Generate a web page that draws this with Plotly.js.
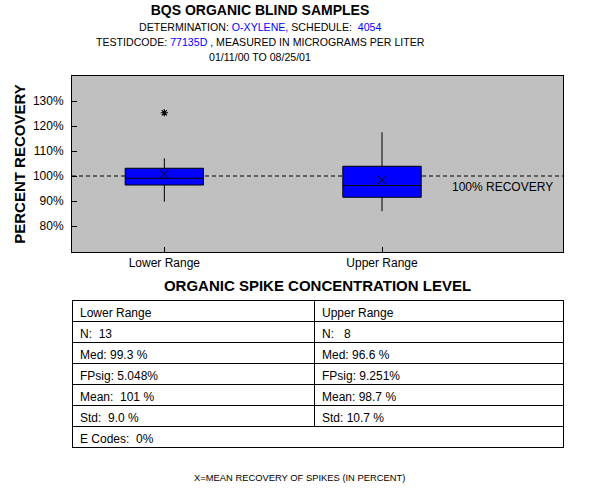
<!DOCTYPE html>
<html>
<head>
<meta charset="utf-8">
<script src="https://cdn.plot.ly/plotly-3.0.1.min.js"></script>
<style>html,body{margin:0;padding:0;background:#fff;}#chart{width:600px;height:500px;}</style>
</head>
<body>
<div id="chart"></div>
<script>
// ---- data ----
var categories = ['Lower Range', 'Upper Range'];
var q1Values = [96.4, 91.5];
var medianValues = [99.1, 96.2];
var q3Values = [103.1, 103.9];
var lowerFenceValues = [89.7, 85.9];
var upperFenceValues = [107.1, 117.5];
var meanValues = [100.8, 98.3];
var outlierCategories = ['Lower Range'];
var outlierValues = [125.3];
var referenceLevel = 100;
var yTickVals = [80, 90, 100, 110, 120, 130];
var yTickText = ['80%', '90%', '100%', '110%', '120%', '130%'];

var tableHeader = ['Lower Range', 'Upper Range'];
var lowerColumn = ['N:\u00a0 13', 'Med: 99.3 %', 'FPsig: 5.048%', 'Mean:\u00a0 101 %', 'Std:\u00a0 9.0 %'];
var upperColumn = ['N:\u00a0\u00a0 8', 'Med: 96.6 %', 'FPsig: 9.251%', 'Mean: 98.7 %', 'Std: 10.7 %'];
var eCodesRow = ['E Codes:\u00a0 0%'];

// ---- chart ----
var FONT = 'Liberation Sans, Arial, sans-serif';
var H = 500, MT = 76, MB = 50;
var paperH = H - MT - MB;
function py(p) { return (H - MB - p) / paperH; } // pixel y -> paper y

var traces = [
  {
    type: 'box',
    x: categories,
    q1: q1Values,
    median: medianValues,
    q3: q3Values,
    lowerfence: lowerFenceValues,
    upperfence: upperFenceValues,
    boxpoints: false,
    whiskerwidth: 0,
    width: 0.36,
    fillcolor: '#0000FF',
    line: {color: '#000000', width: 1},
    hoverinfo: 'skip',
    showlegend: false
  },
  {
    type: 'scatter',
    mode: 'markers',
    x: categories,
    y: meanValues,
    marker: {symbol: 'x-thin-open', size: 8, color: '#000000', line: {color: '#000000', width: 1}},
    hoverinfo: 'skip',
    showlegend: false
  },
  {
    type: 'scatter',
    mode: 'markers',
    x: outlierCategories,
    y: outlierValues,
    marker: {symbol: 'asterisk-open', size: 6, color: '#000000', line: {color: '#000000', width: 1.2}},
    hoverinfo: 'skip',
    showlegend: false
  },
  {
    type: 'table',
    domain: {x: [0, 1], y: [py(430), py(300)]},
    columnwidth: [242, 249],
    header: {
      values: tableHeader,
      height: 21,
      align: 'left',
      line: {color: '#000000', width: 1},
      fill: {color: '#FFFFFF'},
      font: {family: FONT, size: 12, color: '#000000'}
    },
    cells: {
      values: [lowerColumn, upperColumn],
      height: 21,
      align: 'left',
      line: {color: '#000000', width: 1},
      fill: {color: '#FFFFFF'},
      font: {family: FONT, size: 12, color: '#000000'}
    }
  },
  {
    type: 'table',
    domain: {x: [0, 1], y: [py(449), py(426)]},
    header: {
      values: eCodesRow,
      height: 21,
      align: 'left',
      line: {color: '#000000', width: 1},
      fill: {color: '#FFFFFF'},
      font: {family: FONT, size: 12, color: '#000000'}
    },
    cells: {values: [[]], height: 21}
  }
];

var layout = {
  width: 600,
  height: 500,
  margin: {l: 72, r: 37, t: MT, b: MB, pad: 0},
  paper_bgcolor: '#FFFFFF',
  plot_bgcolor: '#C0C0C0',
  font: {family: FONT, size: 12, color: '#000000'},
  showlegend: false,
  title: {
    text: '<b>BQS ORGANIC BLIND SAMPLES</b>',
    font: {family: FONT, size: 14, color: '#000000'},
    x: 260 / 600, xref: 'container', xanchor: 'center',
    y: 1 - 10 / 500, yref: 'container', yanchor: 'middle'
  },
  xaxis: {
    type: 'category',
    range: [-0.4243, 1.8316],
    domain: [0, 1],
    showgrid: false,
    zeroline: false,
    showline: true,
    mirror: true,
    linecolor: '#000000',
    linewidth: 1,
    ticks: 'inside',
    ticklen: 5,
    tickcolor: '#000000',
    tickfont: {family: FONT, size: 12, color: '#000000'},
    title: {
      text: '<b>ORGANIC SPIKE CONCENTRATION LEVEL</b>',
      font: {family: FONT, size: 15, color: '#000000'},
      standoff: 11
    },
    fixedrange: true
  },
  yaxis: {
    range: [69.6, 140],
    domain: [py(252), 1],
    tickvals: yTickVals,
    ticktext: yTickText,
    showgrid: false,
    zeroline: false,
    showline: true,
    mirror: true,
    linecolor: '#000000',
    linewidth: 1,
    ticks: 'inside',
    ticklen: 5,
    tickcolor: '#000000',
    ticklabelstandoff: 5,
    tickfont: {family: FONT, size: 12, color: '#000000'},
    title: {
      text: '<b>PERCENT RECOVERY</b>',
      font: {family: FONT, size: 15, color: '#000000'},
      standoff: 3
    },
    fixedrange: true
  },
  shapes: [
    {
      type: 'line', layer: 'below',
      xref: 'x domain', x0: 0, x1: 1,
      yref: 'y', y0: referenceLevel, y1: referenceLevel,
      line: {color: '#000000', width: 1, dash: '4px,3px'}
    }
  ],
  annotations: [
    {
      text: 'DETERMINATION: <span style="color:#0000FF">O-XYLENE,</span> SCHEDULE:\u00a0 <span style="color:#0000FF">4054</span>',
      xref: 'paper', x: (260 - 72) / 491, xanchor: 'center',
      yref: 'paper', y: py(27), yanchor: 'middle',
      showarrow: false, font: {family: FONT, size: 10.6, color: '#000000'}
    },
    {
      text: 'TESTIDCODE: <span style="color:#0000FF">77135D</span> , MEASURED IN MICROGRAMS PER LITER',
      xref: 'paper', x: (260 - 72) / 491, xanchor: 'center',
      yref: 'paper', y: py(42), yanchor: 'middle',
      showarrow: false, font: {family: FONT, size: 10.6, color: '#000000'}
    },
    {
      text: '01/11/00 TO 08/25/01',
      xref: 'paper', x: (260 - 72) / 491, xanchor: 'center',
      yref: 'paper', y: py(57), yanchor: 'middle',
      showarrow: false, font: {family: FONT, size: 10.6, color: '#000000'}
    },
    {
      text: '100% RECOVERY',
      xref: 'x domain', x: (555 - 72) / 491, xanchor: 'right',
      yref: 'y', y: referenceLevel - 4.4, yanchor: 'middle',
      showarrow: false, font: {family: FONT, size: 12, color: '#000000'}
    },
    {
      text: 'X=MEAN RECOVERY OF SPIKES (IN PERCENT)',
      xref: 'paper', x: (299 - 72) / 491, xanchor: 'center',
      yref: 'paper', y: py(477), yanchor: 'middle',
      showarrow: false, font: {family: FONT, size: 9.4, color: '#000000'}
    }
  ]
};

Plotly.newPlot('chart', traces, layout, {displayModeBar: false, staticPlot: true});
</script>
</body>
</html>
